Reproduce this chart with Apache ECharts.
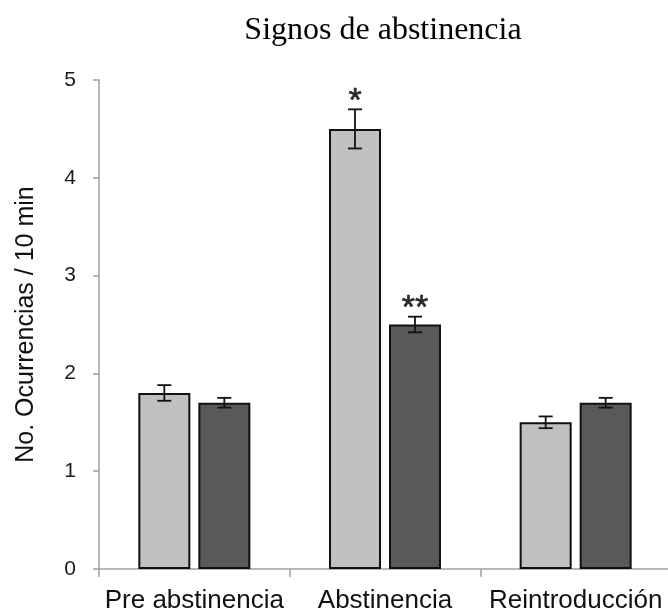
<!DOCTYPE html>
<html>
<head>
<meta charset="utf-8">
<script src="https://cdn.jsdelivr.net/npm/echarts@6/dist/echarts.min.js"></script>
<style>html,body{margin:0;padding:0;background:#fff}#c{width:668px;height:613px}</style>
</head>
<body>
<div id="c"></div>
<script>
var categories = ['Pre abstinencia', 'Abstinencia', 'Reintroducción'];
var lightValues = [1.8, 4.5, 1.5];
var darkValues = [1.7, 2.5, 1.7];
var lightErr = [0.08, 0.2, 0.06];
var darkErr = [0.05, 0.08, 0.05];
var lightMarks = ['', '*', ''];
var darkMarks = ['', '**', ''];
var yTicks = [0, 1, 2, 3, 4, 5];

var BAR_W = 52, GAP = 8;
var OFFSET = (BAR_W + GAP) / 2;

function errSeries(values, errs, marks, dir) {
  return {
    type: 'custom',
    z: 5,
    data: values.map(function (v, i) { return [i, v, errs[i]]; }),
    renderItem: function (params, api) {
      var i = api.value(0), v = api.value(1), e = api.value(2);
      var mark = marks[params.dataIndex];
      var top = api.coord([i, v + e]);
      var bot = api.coord([i, v - e]);
      var x = top[0] + dir * OFFSET;
      var cap = 7;
      var style = { stroke: '#111', lineWidth: 1.8 };
      var children = [
        { type: 'line', shape: { x1: x, y1: top[1], x2: x, y2: bot[1] }, style: style },
        { type: 'line', shape: { x1: x - cap, y1: top[1], x2: x + cap, y2: top[1] }, style: style },
        { type: 'line', shape: { x1: x - cap, y1: bot[1], x2: x + cap, y2: bot[1] }, style: style }
      ];
      if (mark) {
        children.push({
          type: 'text',
          style: {
            text: mark, x: x, y: top[1] - 8,
            align: 'center', verticalAlign: 'middle',
            fontFamily: 'Liberation Sans', fontSize: 34, fill: '#2a2a2a',
            stroke: '#2a2a2a', lineWidth: 0.6
          }
        });
      }
      return { type: 'group', children: children };
    }
  };
}

var chart = echarts.init(document.getElementById('c'), null, { renderer: 'canvas' });
chart.setOption({
  animation: false,
  title: {
    text: 'Signos de abstinencia',
    left: 378, top: 10, textAlign: 'center',
    textStyle: { fontFamily: 'Liberation Serif', fontSize: 32, fontWeight: 'normal', color: '#000' }
  },
  grid: { left: 99, right: -3, top: 80, bottom: 44, containLabel: false, outerBoundsMode: 'none' },
  xAxis: {
    type: 'category',
    data: categories,
    axisLine: { lineStyle: { color: '#a0a0a0', width: 1.5 } },
    axisTick: { show: true, length: 8, lineStyle: { color: '#a0a0a0', width: 1.5 } },
    axisLabel: { interval: 0, margin: 19, fontFamily: 'Liberation Sans', fontSize: 26, color: '#111' }
  },
  yAxis: {
    type: 'value',
    min: 0, max: 5, interval: 1,
    name: 'No. Ocurrencias / 10 min',
    nameLocation: 'middle', nameGap: 60,
    nameTextStyle: { fontFamily: 'Liberation Sans', fontSize: 25, color: '#111' },
    axisLine: { show: true, lineStyle: { color: '#a0a0a0', width: 1.5 } },
    axisTick: { show: true, length: 6, lineStyle: { color: '#a0a0a0', width: 1.5 } },
    splitLine: { show: false },
    axisLabel: {
      margin: 23, fontFamily: 'Liberation Sans', fontSize: 21, color: '#1a1a1a',
      formatter: function (v) { return yTicks.indexOf(v) >= 0 ? String(v) : ''; }
    }
  },
  series: [
    {
      type: 'bar', data: lightValues, barWidth: BAR_W, barGap: (GAP / BAR_W * 100) + '%',
      itemStyle: { color: '#c0c0c0', borderColor: '#111', borderWidth: 2 }
    },
    {
      type: 'bar', data: darkValues, barWidth: BAR_W,
      itemStyle: { color: '#595959', borderColor: '#111', borderWidth: 2 }
    },
    errSeries(lightValues, lightErr, lightMarks, -1),
    errSeries(darkValues, darkErr, darkMarks, 1)
  ]
});
</script>
</body>
</html>
